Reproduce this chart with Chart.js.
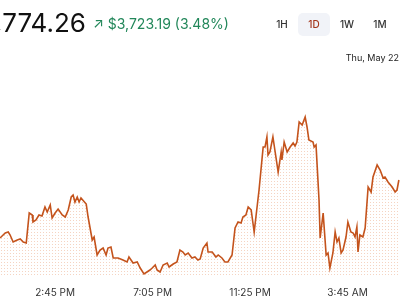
<!DOCTYPE html>
<html>
<head>
<meta charset="utf-8">
<script src="https://cdn.jsdelivr.net/npm/chart.js@4.4.1/dist/chart.umd.min.js"></script>
<style>
  html, body { margin:0; padding:0; background:#fff; width:400px; height:300px; overflow:hidden; font-family: Inter, "Liberation Sans", sans-serif; }
  #wrap { position:absolute; left:0; top:0; width:400px; height:300px; }
  .price { position:absolute; right:314px; top:10px; font-size:26px; line-height:26px; color:#111; white-space:nowrap; font-weight:400; }
  .chg { position:absolute; left:93px; top:16px; font-size:14px; line-height:16px; color:#22875a; white-space:nowrap; }
  .btn { position:absolute; top:13px; height:23px; line-height:23px; width:32px; text-align:center; font-size:10px; font-weight:500; color:#333; border-radius:5px; }
  .btn.on { background:#f1f3f8; color:#a3361b; }
  .date { position:absolute; right:1px; top:52px; font-size:9px; line-height:11px; color:#222; white-space:nowrap; }
</style>
</head>
<body>
<div id="wrap"><canvas id="c" width="400" height="300"></canvas></div>
<div class="price">$110,774.26</div>
<div class="chg">↗ $3,723.19 (3.48%)</div>
<div class="btn" style="left:266px">1H</div>
<div class="btn on" style="left:298px">1D</div>
<div class="btn" style="left:331px">1W</div>
<div class="btn" style="left:364px">1M</div>
<div class="date">Thu, May 22</div>
<script>
// minutes relative to 2:45 PM (May 21)
const minutes = [-147,-133,-125,-120,-112,-101,-93,-85,-77,-69,-61,-59,-51,-43,-35,-27,-21,-13,-8,0,
  8,19,27,35,43,48,53,59,64,69,83,88,99,104,112,120,128,136,141,149,
  155,168,181,192,197,208,219,227,237,245,253,259,267,272,280,288,299,304,315,325,
  333,341,347,355,365,373,381,387,395,405,408,419,429,435,445,453,461,472,480,488,
  496,501,509,515,523,531,544,555,560,565,568,573,581,587,595,603,605,611,619,627,
  635,640,645,651,659,667,672,677,688,691,696,704,707,715,717,723,728,733,741,747,
  752,757,763,768,776,781,789,795,800,805,808,813,821,827,835,843,848,859,867,875,
  880,888,899,907,912,917];
// BTC price (USD)
const prices = [107870,108020,108050,107960,107750,107810,107840,107750,107720,108620,108560,108350,108410,108560,108530,108800,108650,108860,108470,108620,
  108740,108560,108500,108710,109100,109160,108950,109100,108950,109070,108890,108500,107810,107900,107360,107510,107570,107360,107570,107600,
  107270,107270,107210,107150,107300,107120,107150,106970,106790,106850,106910,106970,107060,106910,106850,107060,107120,107000,107090,107150,
  107510,107450,107360,107420,107270,107300,107210,107240,107570,107720,107450,107450,107300,107360,107270,107150,107150,107360,108170,108350,
  108320,108500,108560,108800,108710,108050,109310,110600,110600,110900,110360,110450,110900,110450,109850,110450,110210,110750,110450,110600,
  110720,110630,110750,111350,111260,111500,111200,110810,110750,110600,110660,109010,107870,108620,108620,107360,107420,106970,107420,108050,
  107750,107870,107420,107510,107900,108350,108050,108020,107900,108200,107450,107960,107900,108170,109400,109250,109700,110060,109910,109670,
  109700,109550,109400,109250,109310,109610];
const tickMinutes = [0, 260, 520, 780];
const tickLabels = ["2:45 PM", "7:05 PM", "11:25 PM", "3:45 AM"];

const pts = minutes.map((m, i) => ({ x: m, y: prices[i] }));

// dotted fill pattern
const pc = document.createElement('canvas');
pc.width = 3; pc.height = 3;
const pctx = pc.getContext('2d');
pctx.fillStyle = 'rgba(232,160,120,0.45)';
pctx.fillRect(1, 1, 1, 1);
const ctx = document.getElementById('c').getContext('2d');
const pattern = ctx.createPattern(pc, 'repeat');

new Chart(ctx, {
  type: 'line',
  data: { datasets: [{
    data: pts,
    borderColor: '#c4531c',
    borderWidth: 1.6,
    pointRadius: 0,
    tension: 0,
    fill: 'start',
    backgroundColor: pattern
  }]},
  options: {
    responsive: false,
    animation: false,
    layout: { padding: { top: 64, left: 0, right: 0, bottom: 0 } },
    plugins: { legend: { display: false }, tooltip: { enabled: false } },
    scales: {
      x: {
        type: 'linear',
        min: -147, max: 920,
        grid: { display: false, drawTicks: false },
        border: { display: false },
        afterBuildTicks: (s) => { s.ticks = tickMinutes.map(v => ({ value: v })); },
        afterFit: (s) => { s.height = 24; },
        ticks: {
          autoSkip: false, maxRotation: 0, padding: 11,
          color: '#333',
          font: { size: 10, family: 'Inter, "Liberation Sans", sans-serif' },
          callback: (v) => { const i = tickMinutes.indexOf(v); return i >= 0 ? tickLabels[i] : ''; }
        }
      },
      y: {
        display: false,
        min: 106730, max: 113090
      }
    }
  }
});
</script>
</body>
</html>
